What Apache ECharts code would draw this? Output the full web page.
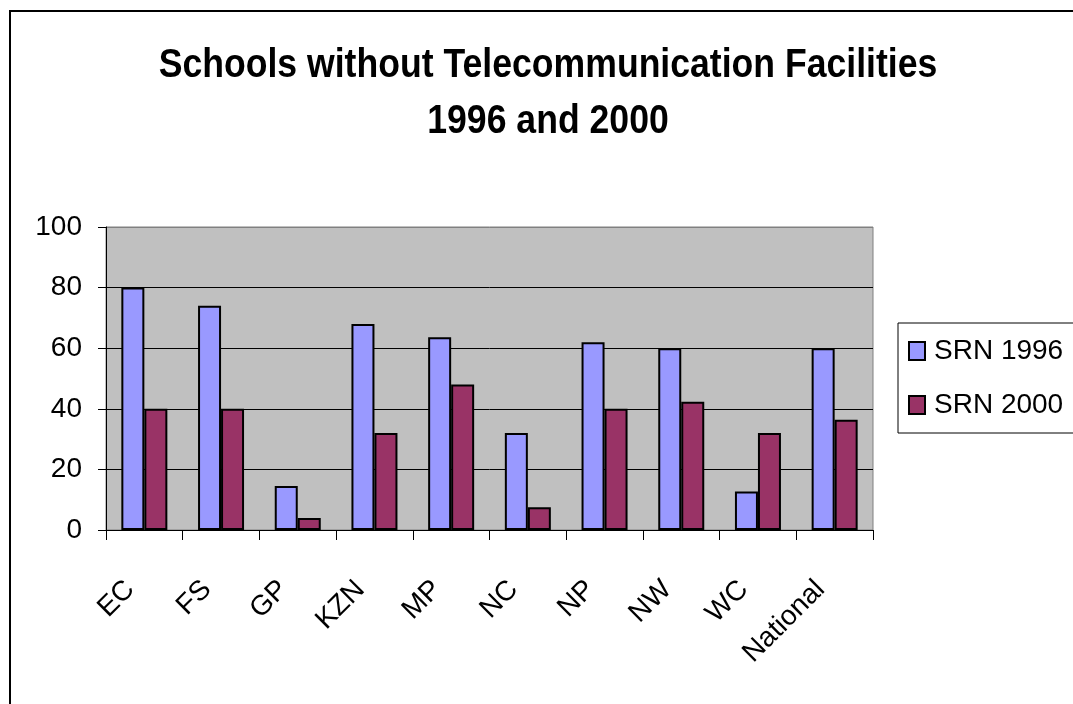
<!DOCTYPE html>
<html>
<head>
<meta charset="utf-8">
<script src="https://cdn.jsdelivr.net/npm/echarts@6/dist/echarts.min.js"></script>
<style>
  html, body { margin: 0; padding: 0; background: #fff; }
  #chart { width: 1073px; height: 704px; }
</style>
</head>
<body>
<div id="chart"></div>
<script>
// data
var categories = ['EC', 'FS', 'GP', 'KZN', 'MP', 'NC', 'NP', 'NW', 'WC', 'National'];
var srn1996 = [80, 74, 14.5, 68, 63.6, 32, 62, 60, 12.7, 60];
var srn2000 = [40, 40, 4, 32, 48, 7.5, 40, 42.3, 32, 36.4];
var yTicks = [0, 20, 40, 60, 80, 100];
var titleText = 'Schools without Telecommunication Facilities\n1996 and 2000';

var colors = ['#9999FF', '#993366'];
var font = '"Liberation Sans", Arial, sans-serif';

var myChart = echarts.init(document.getElementById('chart'));
myChart.setOption({
    backgroundColor: '#FFFFFF',
    animation: false,
    color: colors,
    graphic: [
        // outer frame of the chart sheet
        {
            type: 'rect',
            shape: { x: 10, y: 11, width: 1200, height: 800 },
            style: { fill: 'none', stroke: '#000', lineWidth: 2 },
            silent: true
        },
        // title, squeezed a bit like the original narrow font
        {
            type: 'text',
            x: 548,
            y: 38,
            scaleX: 0.89,
            style: {
                text: titleText,
                fontFamily: font,
                fontWeight: 'bold',
                fontSize: 40,
                lineHeight: 56,
                align: 'center',
                verticalAlign: 'top',
                fill: '#000'
            }
        }
    ],
    legend: {
        orient: 'vertical',
        left: 898,
        top: 323,
        padding: [14, 40, 14, 10],
        itemGap: 26,
        itemWidth: 16,
        itemHeight: 18,
        icon: 'rect',
        borderColor: '#000',
        borderWidth: 1,
        backgroundColor: '#fff',
        itemStyle: { borderColor: '#000', borderWidth: 2 },
        textStyle: { fontFamily: font, fontSize: 28, color: '#000', padding: [0, 0, 0, 4] },
        data: ['SRN 1996', 'SRN 2000']
    },
    grid: {
        left: 106,
        right: 200,
        top: 227,
        bottom: 174,
        show: true,
        backgroundColor: '#C0C0C0',
        borderColor: '#808080',
        borderWidth: 1
    },
    xAxis: {
        type: 'category',
        data: categories,
        axisLine: { lineStyle: { color: '#000', width: 1 } },
        axisTick: { show: true, length: 10, lineStyle: { color: '#000' } },
        axisLabel: {
            rotate: 45,
            margin: 41,
            padding: [0, 20, 0, 0],
            fontFamily: font,
            fontSize: 28,
            color: '#000'
        }
    },
    yAxis: {
        type: 'value',
        min: yTicks[0],
        max: yTicks[yTicks.length - 1],
        interval: 20,
        axisLine: { show: true, lineStyle: { color: '#000', width: 1 } },
        axisTick: { show: true, length: 8, lineStyle: { color: '#000' } },
        splitLine: { lineStyle: { color: ['#000', '#000', '#000', '#000', '#000', '#808080'], width: 1 } },
        axisLabel: {
            margin: 24,
            fontFamily: font,
            fontSize: 28,
            color: '#000'
        }
    },
    series: [
        {
            name: 'SRN 1996',
            type: 'bar',
            barWidth: 23,
            barGap: '0%',
            itemStyle: { color: colors[0], borderColor: '#000', borderWidth: 2 },
            data: srn1996
        },
        {
            name: 'SRN 2000',
            type: 'bar',
            barWidth: 23,
            barGap: '0%',
            itemStyle: { color: colors[1], borderColor: '#000', borderWidth: 2 },
            data: srn2000
        }
    ]
});
</script>
</body>
</html>
